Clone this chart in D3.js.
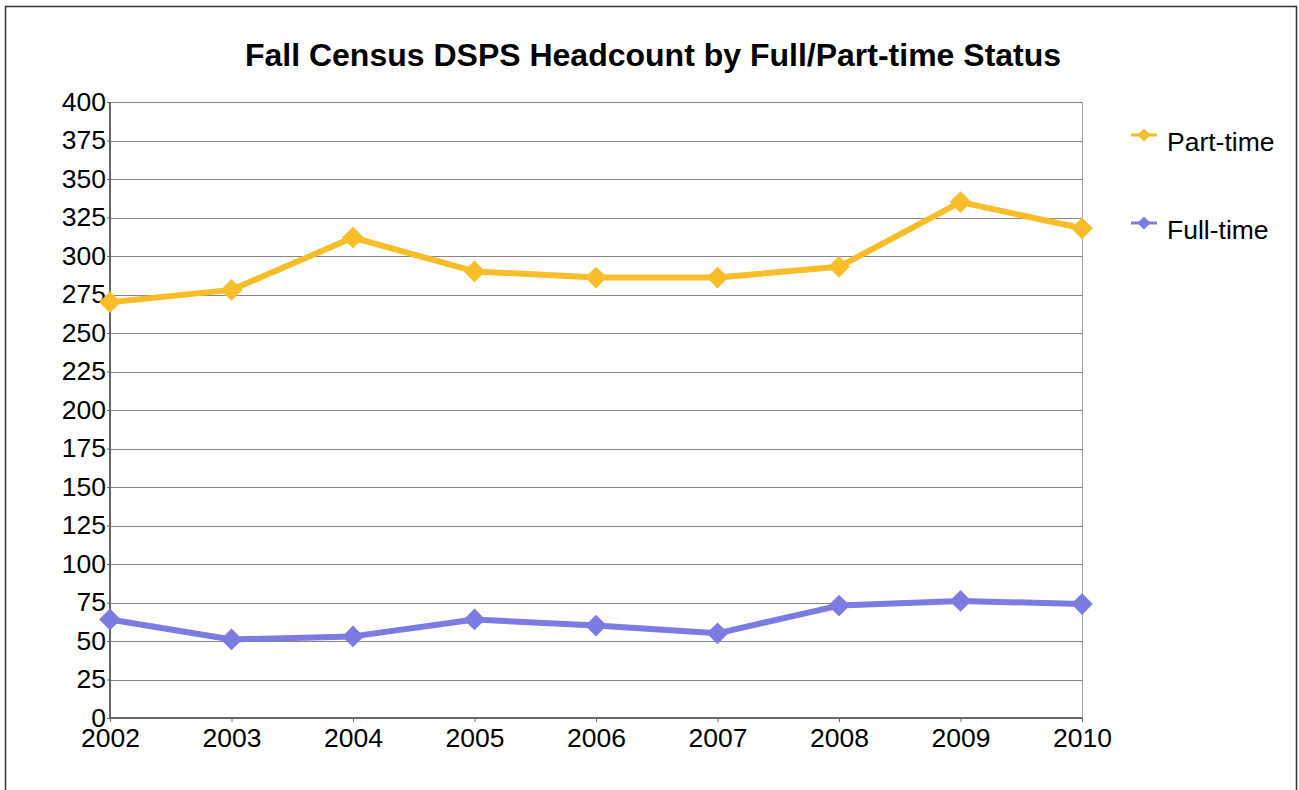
<!DOCTYPE html>
<html>
<head>
<meta charset="utf-8">
<script src="https://cdn.jsdelivr.net/npm/d3@7"></script>
<style>
  body { margin: 0; background: #fff; }
  svg { font-family: "Liberation Sans", Arial, sans-serif; }
</style>
</head>
<body>
<div id="chart"></div>
<script>
var years = [2002, 2003, 2004, 2005, 2006, 2007, 2008, 2009, 2010];
var partTime = [270, 278, 312, 290, 286, 286, 293, 335, 318];
var fullTime = [64, 51, 53, 64, 60, 55, 73, 76, 74];
var yTicks = [0, 25, 50, 75, 100, 125, 150, 175, 200, 225, 250, 275, 300, 325, 350, 375, 400];
var seriesNames = ["Part-time", "Full-time"];
var seriesColors = ["#f8be2a", "#7b7be1"];

var chart_width = 1299;
var chart_height = 790;
var plot = { left: 110, right: 1082, top: 102, bottom: 718 };

var svg = d3.select('#chart')
  .append('svg')
  .attr('width', chart_width)
  .attr('height', chart_height);

// outer frame
svg.append('rect')
  .attr('x', 5.5).attr('y', 6.5)
  .attr('width', 1291).attr('height', 800)
  .attr('fill', 'none')
  .attr('stroke', '#333')
  .attr('stroke-width', 1.5);

// title
svg.append('text')
  .attr('x', 653).attr('y', 66)
  .attr('text-anchor', 'middle')
  .attr('font-size', 32)
  .attr('font-weight', 'bold')
  .text('Fall Census DSPS Headcount by Full/Part-time Status');

var x_scale = d3.scalePoint()
  .domain(years)
  .range([plot.left, plot.right]);

var y_scale = d3.scaleLinear()
  .domain([0, 400])
  .range([plot.bottom, plot.top]);

// gridlines
svg.append('g')
  .selectAll('line')
  .data(yTicks.slice(1))
  .enter()
  .append('line')
  .attr('x1', plot.left).attr('x2', plot.right)
  .attr('y1', function(d){ return Math.round(y_scale(d)) + 0.5; })
  .attr('y2', function(d){ return Math.round(y_scale(d)) + 0.5; })
  .attr('stroke', '#858585')
  .attr('stroke-width', 1);

// right border of plot
svg.append('line')
  .attr('x1', plot.right + 0.5).attr('x2', plot.right + 0.5)
  .attr('y1', plot.top).attr('y2', plot.bottom)
  .attr('stroke', '#a0a0a0');

// axes
var yAxis = d3.axisLeft(y_scale)
  .tickValues(yTicks)
  .tickSize(3)
  .tickPadding(1);

var xAxis = d3.axisBottom(x_scale)
  .tickSize(4)
  .tickPadding(6);

var gy = svg.append('g')
  .attr('class', 'y-axis')
  .attr('transform', 'translate(' + plot.left + ',0)')
  .call(yAxis);

var gx = svg.append('g')
  .attr('class', 'x-axis')
  .attr('transform', 'translate(0,' + plot.bottom + ')')
  .call(xAxis);

[gx, gy].forEach(function(g){
  g.select('.domain').attr('stroke', '#666').attr('stroke-width', 2);
  g.selectAll('.tick line').attr('stroke', '#666');
  g.selectAll('.tick text')
    .attr('fill', '#000')
    .attr('font-size', 26.5)
    .attr('font-family', '"Liberation Sans", Arial, sans-serif');
});
gy.selectAll('.tick text').attr('dy', '0.32em');
gx.select('.domain').attr('d', 'M' + plot.left + ',0H' + plot.right);
gy.select('.domain').attr('d', 'M0,' + plot.top + 'V' + plot.bottom);

// lines and markers
var line = d3.line()
  .x(function(d, i){ return x_scale(years[i]); })
  .y(function(d){ return y_scale(d); });

var diamond = d3.symbol().type(d3.symbolDiamond2).size(300);

[partTime, fullTime].forEach(function(values, s){
  svg.append('path')
    .datum(values)
    .attr('d', line)
    .attr('fill', 'none')
    .attr('stroke', seriesColors[s])
    .attr('stroke-width', 6)
    .attr('stroke-linejoin', 'round');

  svg.append('g')
    .selectAll('path')
    .data(values)
    .enter()
    .append('path')
    .attr('d', diamond)
    .attr('transform', function(d, i){
      return 'translate(' + x_scale(years[i]) + ',' + y_scale(d) + ')';
    })
    .attr('fill', seriesColors[s]);
});

// legend
var legend = svg.append('g')
  .selectAll('g')
  .data(seriesNames)
  .enter()
  .append('g')
  .attr('transform', function(d, i){ return 'translate(1144,' + (135 + i * 88) + ')'; });

legend.append('line')
  .attr('x1', -13).attr('x2', 13)
  .attr('stroke', function(d, i){ return seriesColors[i]; })
  .attr('stroke-width', 3);

legend.append('path')
  .attr('d', d3.symbol().type(d3.symbolDiamond2).size(110))
  .attr('fill', function(d, i){ return seriesColors[i]; });

legend.append('text')
  .attr('x', 23).attr('y', 16)
  .attr('font-size', 26.5)
  .text(function(d){ return d; });
</script>
</body>
</html>
